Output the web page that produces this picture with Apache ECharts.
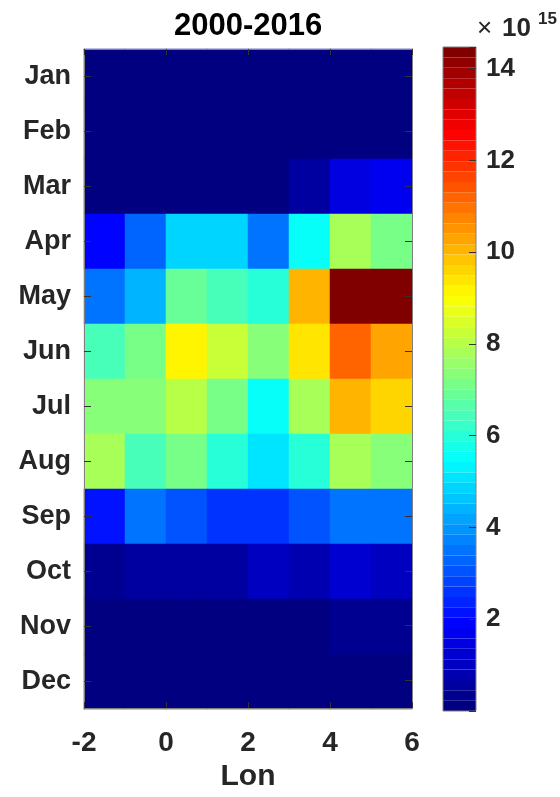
<!DOCTYPE html>
<html>
<head>
<meta charset="utf-8">
<script src="https://cdn.jsdelivr.net/npm/echarts@6/dist/echarts.min.js"></script>
<style>html,body{margin:0;padding:0;background:#fff}#c{width:560px;height:797px}</style>
</head>
<body>
<div id="c"></div>
<script>
// Months (rows, top to bottom)
const months = ['Jan','Feb','Mar','Apr','May','Jun','Jul','Aug','Sep','Oct','Nov','Dec'];
// Longitude cell centres (columns), axis spans -2..6
const lonCenters = ['-1.5','-0.5','0.5','1.5','2.5','3.5','4.5','5.5'];
const lonTicks = [-2, 0, 2, 4, 6];
// Values in units of 1e15, one row per month
const jan = [0.08, 0.08, 0.07, 0.07, 0.06, 0.06, 0.08, 0.09];
const feb = [0.08, 0.08, 0.08, 0.08, 0.09, 0.12, 0.15, 0.15];
const mar = [0.12, 0.12, 0.13, 0.15, 0.15, 0.60, 1.55, 1.80];
const apr = [1.85, 3.20, 4.75, 4.75, 3.40, 5.45, 7.75, 7.05];
const may = [3.60, 4.50, 6.80, 6.55, 6.10, 9.95, 14.40, 14.47];
const jun = [6.55, 7.05, 9.05, 8.15, 7.45, 9.30, 11.30, 10.20];
const jul = [7.40, 7.30, 7.95, 7.20, 5.45, 7.70, 9.95, 9.70];
const aug = [7.75, 6.55, 7.05, 6.10, 5.00, 6.10, 7.70, 7.25];
const sep = [2.25, 3.40, 3.15, 2.70, 2.70, 2.95, 3.60, 3.40];
const oct = [0.25, 0.65, 0.65, 0.65, 1.00, 0.80, 1.35, 1.10];
const nov = [0.10, 0.10, 0.10, 0.10, 0.10, 0.10, 0.30, 0.30];
const dec = [0.08, 0.08, 0.07, 0.07, 0.07, 0.07, 0.09, 0.09];
const rows = [jan, feb, mar, apr, may, jun, jul, aug, sep, oct, nov, dec];
const colorMin = 0, colorMax = 14.47;
const colorTicks = [2, 4, 6, 8, 10, 12, 14];
const titleText = '2000-2016';
const xName = 'Lon';

const jet = ['#000080','#0000ff','#0080ff','#00ffff','#80ff80','#ffff00','#ff8000','#ff0000','#800000'];
const data = [];
rows.forEach((r, yi) => r.forEach((v, xi) => data.push([xi, yi, v])));

const FF = '"Liberation Sans", Arial, Helvetica, sans-serif';
const lineC = '#808080', tickC = '#333333', txtC = '#262626';
const G = {left: 84, top: 49, width: 328, height: 660};
const CB = {left: 443, top: 47, width: 33, height: 664};

const chart = echarts.init(document.getElementById('c'), null, {renderer: 'canvas'});
chart.setOption({
  animation: false,
  backgroundColor: '#ffffff',
  title: [
    {text: titleText, left: 169, top: 6, textStyle: {fontFamily: FF, fontSize: 31, fontWeight: 'bold', color: '#000'}},
    {text: '×', left: 472, top: 11, textStyle: {fontFamily: FF, fontSize: 26, fontWeight: 'normal', color: txtC}},
    {text: '10', left: 497, top: 11, textStyle: {fontFamily: FF, fontSize: 26, fontWeight: 'bold', color: txtC}},
    {text: '15', left: 533, top: 6, textStyle: {fontFamily: FF, fontSize: 17, fontWeight: 'bold', color: txtC}}
  ],
  grid: [
    Object.assign({}, G),
    Object.assign({}, G),
    Object.assign({show: true, z: 10, borderColor: lineC, borderWidth: 1, backgroundColor: 'transparent'}, CB)
  ],
  xAxis: [
    {gridIndex: 0, type: 'category', data: lonCenters, show: false},
    {gridIndex: 1, type: 'value', position: 'bottom', min: lonTicks[0], max: lonTicks[lonTicks.length-1], interval: 2, z: 5,
     axisLine: {show: true, onZero: false, lineStyle: {color: lineC, width: 1}},
     axisTick: {show: true, inside: true, length: 6, lineStyle: {color: tickC}},
     axisLabel: {fontFamily: FF, fontSize: 28, fontWeight: 'bold', color: txtC, margin: 21},
     splitLine: {show: false},
     name: xName, nameLocation: 'middle', nameGap: 53,
     nameTextStyle: {fontFamily: FF, fontSize: 30, fontWeight: 'bold', color: txtC}},
    {gridIndex: 1, type: 'value', position: 'top', min: lonTicks[0], max: lonTicks[lonTicks.length-1], interval: 2, z: 5,
     axisLine: {show: true, onZero: false, lineStyle: {color: lineC, width: 1}},
     axisTick: {show: true, inside: true, length: 6, lineStyle: {color: tickC}},
     axisLabel: {show: false}, splitLine: {show: false}},
    {gridIndex: 2, type: 'value', min: 0, max: 1, show: false}
  ],
  yAxis: [
    {gridIndex: 0, type: 'category', data: months, inverse: true, position: 'left', z: 5,
     axisLine: {show: true, onZero: false, lineStyle: {color: lineC, width: 1}},
     axisTick: {show: true, inside: true, alignWithLabel: true, length: 7, lineStyle: {color: tickC}},
     axisLabel: {fontFamily: FF, fontSize: 27, fontWeight: 'bold', color: txtC, margin: 13},
     splitLine: {show: false}},
    {gridIndex: 1, type: 'category', data: months, inverse: true, position: 'right', z: 5,
     axisLine: {show: true, onZero: false, lineStyle: {color: lineC, width: 1}},
     axisTick: {show: true, inside: true, alignWithLabel: true, length: 7, lineStyle: {color: tickC}},
     axisLabel: {show: false}, splitLine: {show: false}},
    {gridIndex: 2, type: 'value', position: 'right', min: colorMin, max: colorMax, interval: 2, z: 10,
     axisLine: {show: false, onZero: false},
     axisTick: {show: true, inside: true, length: 7, lineStyle: {color: tickC}},
     axisLabel: {fontFamily: FF, fontSize: 26, fontWeight: 'bold', color: txtC, margin: 10,
       formatter: v => colorTicks.indexOf(v) >= 0 ? String(v) : ''},
     splitLine: {show: false}}
  ],
  visualMap: {
    type: 'piecewise',
    seriesIndex: 0,
    min: colorMin, max: colorMax,
    splitNumber: 64,
    orient: 'vertical',
    left: CB.left, top: CB.top,
    itemWidth: CB.width, itemHeight: CB.height / 64,
    itemGap: 0, itemSymbol: 'rect',
    showLabel: false, padding: 0,
    hoverLink: false, selectedMode: false,
    inRange: {color: jet}
  },
  series: [{
    type: 'heatmap',
    xAxisIndex: 0, yAxisIndex: 0,
    data: data,
    itemStyle: {borderWidth: 0},
    emphasis: {disabled: true}
  }]
});
</script>
</body>
</html>
